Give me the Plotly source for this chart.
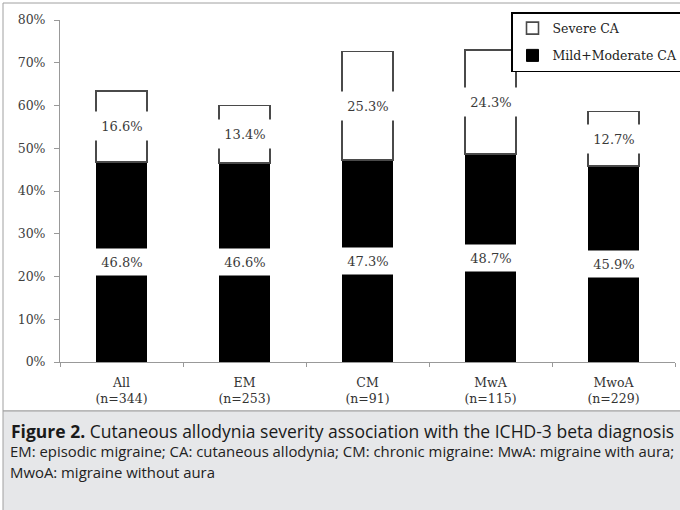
import plotly.graph_objects as go

categories = ["All", "EM", "CM", "MwA", "MwoA"]
n_values = [344, 253, 91, 115, 229]
mild_moderate = [46.8, 46.6, 47.3, 48.7, 45.9]
severe = [16.6, 13.4, 25.3, 24.3, 12.7]
y_ticks = [0, 10, 20, 30, 40, 50, 60, 70, 80]

tick_text = [f"{c}<br>(n={n})" for c, n in zip(categories, n_values)]

SERIF = "DejaVu Serif"
L, R, T, B = 60, 5, 20, 148
W, H = 680, 510
PW, PH = W - L - R, H - T - B


def px(xp):
    return (xp - L) / PW


def py(yp):
    return (H - B - yp) / PH


fig = go.Figure()
fig.add_trace(go.Bar(
    x=categories, y=mild_moderate, name="Mild+Moderate CA",
    marker=dict(color="black", line=dict(color="black", width=1)),
    width=0.41, legendgroup="a", legendrank=2, hoverinfo="skip",
))
fig.add_trace(go.Bar(
    x=categories, y=severe, base=mild_moderate, name="Severe CA",
    marker=dict(color="white", line=dict(color="#4a4a4a", width=1.6)),
    width=0.41, legendgroup="b", legendrank=1, hoverinfo="skip",
))

annotations = []
for c, m, s in zip(categories, mild_moderate, severe):
    annotations.append(dict(
        x=c, y=m / 2, xref="x", yref="y", text=f"{m:.1f}%", showarrow=False,
        font=dict(family=SERIF, size=13, color="#3a3a3a"),
        bgcolor="white", width=56, height=24,
    ))
    annotations.append(dict(
        x=c, y=m + s / 2, xref="x", yref="y", text=f"{s:.1f}%", showarrow=False,
        font=dict(family=SERIF, size=13, color="#3a3a3a"),
        bgcolor="white", width=56, height=26,
    ))

CAP_FONT = "Open Sans"
annotations.append(dict(
    x=px(9), y=py(431), xref="paper", yref="paper", xanchor="left", yanchor="middle",
    text="<b>Figure 2.</b> Cutaneous allodynia severity association with the ICHD-3 beta diagnosis",
    showarrow=False, font=dict(family=CAP_FONT, size=17.5, color="#1a1a1a"),
))
annotations.append(dict(
    x=px(8), y=py(451), xref="paper", yref="paper", xanchor="left", yanchor="middle",
    text="EM: episodic migraine; CA: cutaneous allodynia; CM: chronic migraine: MwA: migraine with aura;",
    showarrow=False, font=dict(family=CAP_FONT, size=14.9, color="#222222"),
))
annotations.append(dict(
    x=px(8), y=py(472), xref="paper", yref="paper", xanchor="left", yanchor="middle",
    text="MwoA: migraine without aura",
    showarrow=False, font=dict(family=CAP_FONT, size=14.9, color="#222222"),
))

shapes = [
    dict(type="rect", xref="paper", yref="paper", layer="below",
         x0=px(3), x1=px(684), y0=py(411), y1=py(3),
         line=dict(color="#a0a0a0", width=1), fillcolor="white"),
    dict(type="rect", xref="paper", yref="paper", layer="below",
         x0=px(3), x1=px(684), y0=py(514), y1=py(411),
         line=dict(color="#a0a0a0", width=1), fillcolor="#e6e7e9"),
]

fig.update_layout(
    width=W, height=H,
    margin=dict(l=L, r=R, t=T, b=B, autoexpand=False),
    paper_bgcolor="white", plot_bgcolor="rgba(0,0,0,0)",
    barmode="stack", showlegend=True,
    legend=dict(
        x=px(511), y=py(12), xanchor="left", yanchor="top",
        bordercolor="black", borderwidth=1.5, bgcolor="white",
        traceorder="grouped", tracegroupgap=8,
        itemwidth=30,
        font=dict(family=SERIF, size=12.5, color="#222222"),
    ),
    annotations=annotations, shapes=shapes,
    xaxis=dict(
        type="category", tickmode="array", tickvals=categories, ticktext=tick_text,
        tickson="boundaries", ticks="outside", ticklen=4, tickcolor="#999999",
        showline=True, linecolor="#999999", linewidth=1, showgrid=False,
        tickfont=dict(family=SERIF, size=12.5, color="#333333"),
        ticklabelstandoff=9,
        range=[-0.5, 4.5], fixedrange=True,
    ),
    yaxis=dict(
        range=[0, 80], tickmode="array", tickvals=y_ticks,
        ticktext=[f"{v}%" for v in y_ticks],
        ticks="outside", ticklen=5, tickcolor="#999999",
        showline=True, linecolor="#999999", linewidth=1, showgrid=False,
        zeroline=False, ticklabelstandoff=6,
        tickfont=dict(family=SERIF, size=12.5, color="#404040"),
        fixedrange=True,
    ),
)

fig.write_html(
    "out.html",
    config={"displayModeBar": False},
    post_script="document.body.style.margin='0';document.body.style.overflow='hidden';",
)
